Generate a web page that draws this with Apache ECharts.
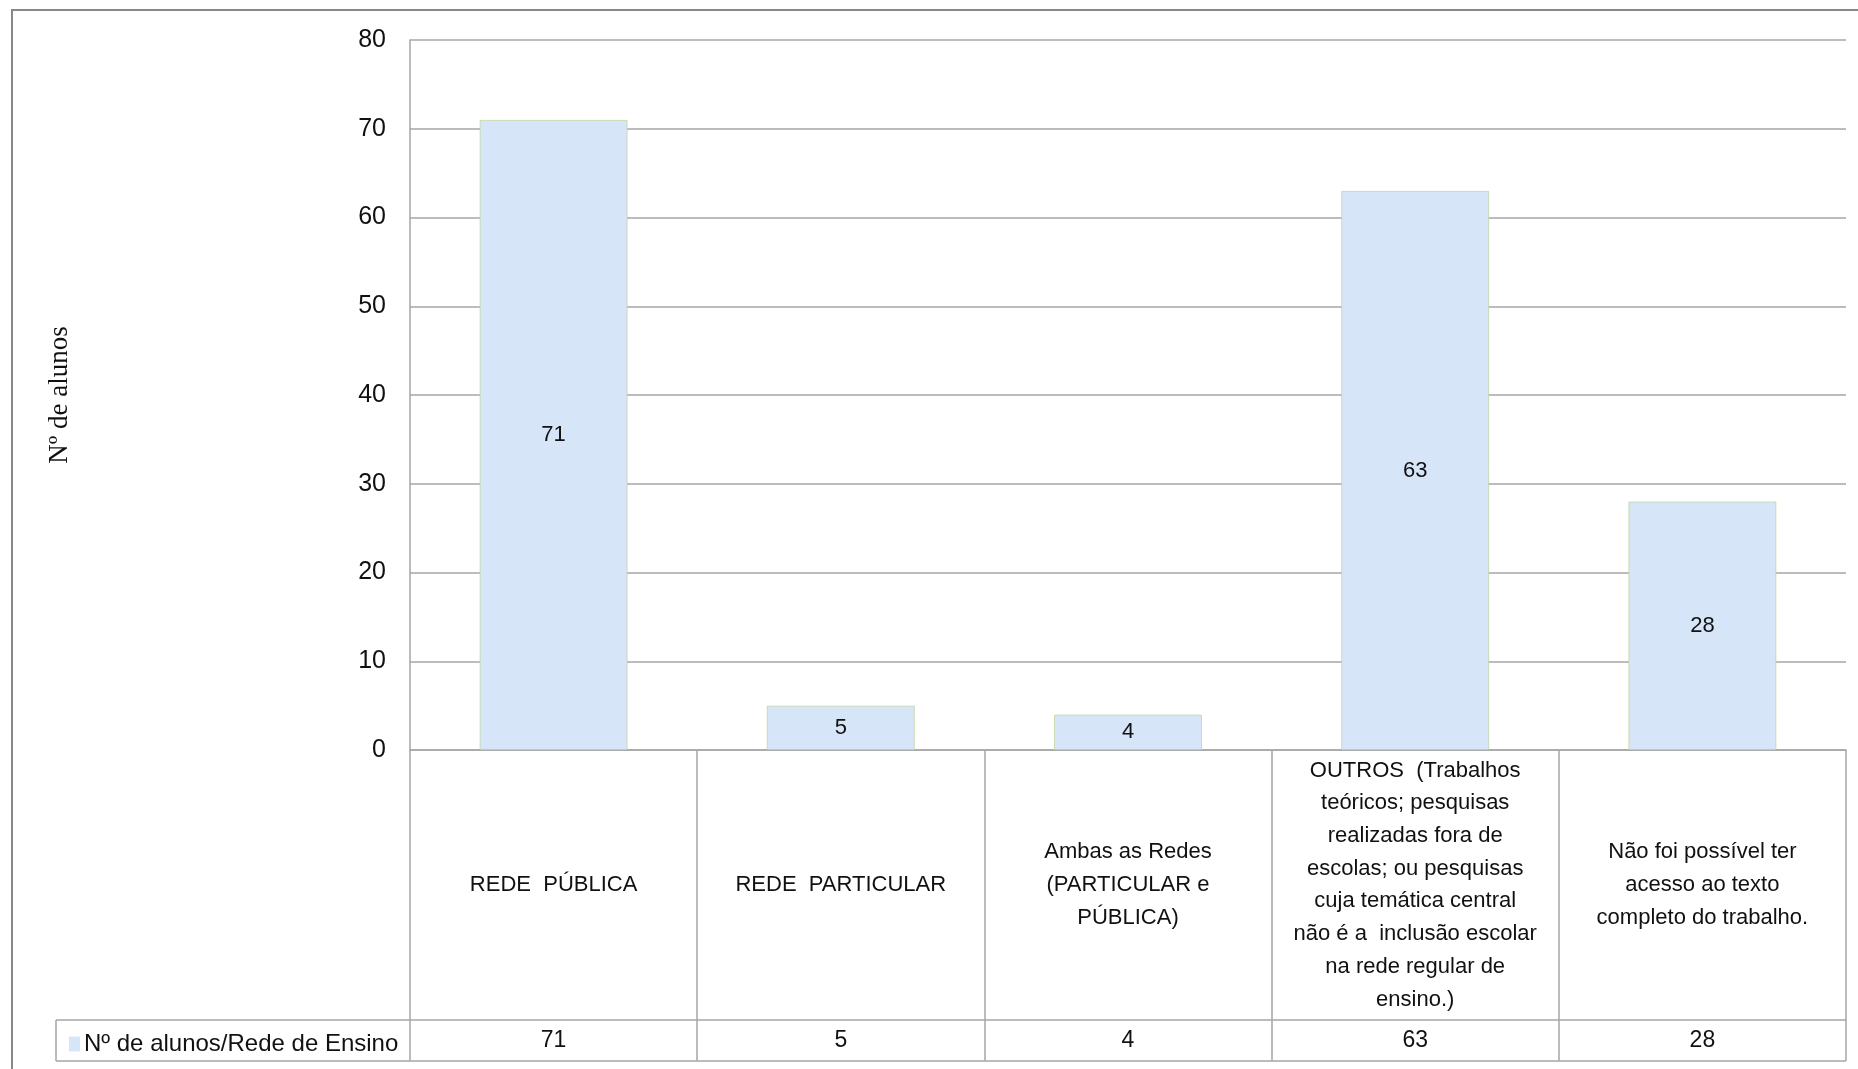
<!DOCTYPE html>
<html>
<head>
<meta charset="utf-8">
<script src="https://cdn.jsdelivr.net/npm/echarts@6/dist/echarts.min.js"></script>
<style>html,body{margin:0;padding:0;background:#fff}#c{width:1858px;height:1069px}</style>
</head>
<body>
<div id="c"></div>
<script>
const categories = [
  'REDE  PÚBLICA',
  'REDE  PARTICULAR',
  'Ambas as Redes\n(PARTICULAR e\nPÚBLICA)',
  'OUTROS  (Trabalhos\nteóricos; pesquisas\nrealizadas fora de\nescolas; ou pesquisas\ncuja temática central\nnão é a  inclusão escolar\nna rede regular de\nensino.)',
  'Não foi possível ter\nacesso ao texto\ncompleto do trabalho.'
];
const values = [71, 5, 4, 63, 28];
const seriesName = 'Nº de alunos/Rede de Ensino';
const yTitle = 'Nº de alunos';

const sans = '"Liberation Sans", Arial, sans-serif';
const grayLine = '#a6a6a6';
const chart = echarts.init(document.getElementById('c'));
chart.setOption({
  animation: false,
  backgroundColor: '#fff',
  grid: { left: 410, right: 12, top: 40, bottom: 319 },
  legend: {
    left: 64, top: 1027, icon: 'rect', itemWidth: 11, itemHeight: 15, itemGap: 6,
    itemStyle: { borderWidth: 0 },
    textStyle: { fontFamily: sans, fontSize: 24, color: '#111', padding: [0, 0, 0, -1] },
    data: [seriesName]
  },
  xAxis: [{
    type: 'category', data: categories, position: 'bottom',
    axisLine: { show: true, lineStyle: { color: grayLine, width: 1.5 } },
    axisTick: { show: true, length: 311, lineStyle: { color: grayLine, width: 1.5 } },
    axisLabel: { interval: 0, margin: 135, verticalAlign: 'middle', align: 'center',
      fontFamily: sans, fontSize: 22, lineHeight: 32.7, color: '#111' }
  }, {
    type: 'category', data: values.map(String), position: 'bottom', offset: 270,
    axisLine: { show: true, lineStyle: { color: grayLine, width: 1.5 } },
    axisTick: { show: false },
    axisLabel: { interval: 0, margin: 21, verticalAlign: 'middle',
      fontFamily: sans, fontSize: 23, color: '#111' }
  }],
  yAxis: {
    type: 'value', min: 0, max: 80, interval: 10,
    name: yTitle, nameLocation: 'middle', nameGap: 337, nameRotate: 90,
    nameTextStyle: { fontFamily: '"Liberation Serif", "Times New Roman", serif', fontSize: 27, color: '#111' },
    axisLine: { show: true, lineStyle: { color: grayLine, width: 1.5 } },
    axisTick: { show: false },
    splitLine: { lineStyle: { color: grayLine, width: 1.5 } },
    axisLabel: { margin: 24, fontFamily: sans, fontSize: 25, color: '#111' }
  },
  series: [{
    name: seriesName, type: 'bar', data: values, barWidth: 148,
    itemStyle: { color: '#d6e6f8', borderColor: 'rgba(190,210,150,0.7)', borderWidth: 1 },
    label: { show: true, position: 'inside', fontFamily: sans, fontSize: 22, color: '#111' }
  }],
  graphic: [
    { type: 'rect', shape: { x: 12, y: 10, width: 1900, height: 1100 }, style: { fill: 'none', stroke: '#888', lineWidth: 2 }, silent: true },
    { type: 'line', shape: { x1: 56, y1: 1020, x2: 410, y2: 1020 }, style: { stroke: grayLine, lineWidth: 1.5 } },
    { type: 'line', shape: { x1: 56, y1: 1020, x2: 56, y2: 1061 }, style: { stroke: grayLine, lineWidth: 1.5 } },
    { type: 'line', shape: { x1: 56, y1: 1061, x2: 1846, y2: 1061 }, style: { stroke: grayLine, lineWidth: 1.5 } }
  ]
});
</script>
</body>
</html>
